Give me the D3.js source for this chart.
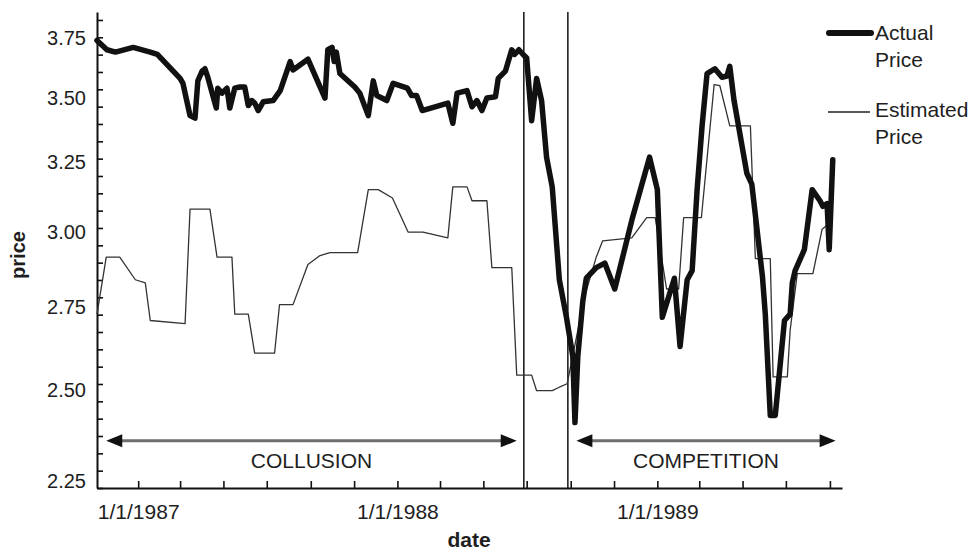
<!DOCTYPE html>
<html>
<head>
<meta charset="utf-8">
<script src="https://cdn.jsdelivr.net/npm/d3@7"></script>
<style>
body{margin:0;background:#fff}
text{font-family:"Liberation Sans",Arial,sans-serif;fill:#1e1e1e}
</style>
</head>
<body>
<svg id="chart" width="975" height="552"></svg>
<script>
// weekly cartel price, actual vs estimated
var actualPrice = [
["1986-11-04",3.73],["1986-11-18",3.69],["1986-11-30",3.68],["1986-12-25",3.70],
["1987-01-18",3.68],["1987-01-28",3.67],["1987-03-01",3.57],["1987-03-05",3.55],
["1987-03-15",3.42],["1987-03-22",3.41],["1987-03-26",3.56],["1987-04-01",3.60],
["1987-04-05",3.61],["1987-04-09",3.575],["1987-04-21",3.45],["1987-04-23",3.53],
["1987-04-29",3.51],["1987-05-06",3.53],["1987-05-10",3.45],["1987-05-17",3.53],
["1987-05-24",3.535],["1987-05-31",3.535],["1987-06-05",3.46],["1987-06-10",3.48],
["1987-06-14",3.47],["1987-06-19",3.44],["1987-06-26",3.475],["1987-07-10",3.48],
["1987-07-20",3.52],["1987-08-03",3.64],["1987-08-07",3.605],["1987-08-28",3.65],
["1987-09-21",3.49],["1987-09-25",3.69],["1987-10-01",3.70],["1987-10-04",3.64],
["1987-10-07",3.68],["1987-10-12",3.59],["1987-11-02",3.535],["1987-11-09",3.51],
["1987-11-21",3.42],["1987-11-28",3.56],["1987-12-03",3.50],["1987-12-17",3.48],
["1987-12-26",3.55],["1988-01-15",3.53],["1988-01-21",3.50],["1988-01-28",3.50],
["1988-02-05",3.44],["1988-03-12",3.47],["1988-03-19",3.39],["1988-03-25",3.51],
["1988-04-08",3.52],["1988-04-15",3.455],["1988-04-22",3.48],["1988-04-29",3.44],
["1988-05-06",3.49],["1988-05-18",3.495],["1988-05-22",3.57],["1988-06-01",3.60],
["1988-06-10",3.69],["1988-06-14",3.67],["1988-06-20",3.69],["1988-06-26",3.67],
["1988-07-01",3.655],["1988-07-08",3.40],["1988-07-15",3.57],["1988-07-22",3.48],
["1988-07-29",3.26],["1988-08-06",3.15],["1988-08-16",2.83],["1988-08-26",2.71],
["1988-09-04",2.59],["1988-09-07",2.40],["1988-09-11",2.59],["1988-09-18",2.76],
["1988-09-23",2.835],["1988-10-07",2.87],["1988-10-19",2.885],["1988-11-02",2.80],
["1988-11-27",3.04],["1988-12-21",3.26],["1989-01-01",3.14],["1989-01-08",2.71],
["1989-01-25",2.835],["1989-02-02",2.62],["1989-02-12",2.83],["1989-02-19",2.86],
["1989-02-26",3.14],["1989-03-05",3.38],["1989-03-12",3.59],["1989-03-23",3.61],
["1989-04-02",3.575],["1989-04-09",3.58],["1989-04-13",3.62],["1989-04-19",3.48],
["1989-05-07",3.20],["1989-05-14",3.16],["1989-05-29",2.84],["1989-06-02",2.72],
["1989-06-09",2.42],["1989-06-16",2.42],["1989-06-29",2.70],["1989-07-07",2.72],
["1989-07-10",2.82],["1989-07-14",2.86],["1989-07-27",2.93],["1989-08-07",3.14],
["1989-08-18",3.10],["1989-08-22",3.08],["1989-08-28",3.09],["1989-08-31",2.93],
["1989-09-05",3.25]
]

var estimatedPrice = [
["1986-11-04",2.72],["1986-11-17",2.905],["1986-12-06",2.905],["1986-12-28",2.83],
["1987-01-11",2.82],["1987-01-18",2.70],["1987-03-08",2.69],["1987-03-15",3.07],
["1987-04-12",3.07],["1987-04-22",2.905],["1987-05-13",2.905],["1987-05-17",2.72],
["1987-06-05",2.72],["1987-06-14",2.60],["1987-07-12",2.60],["1987-07-19",2.75],
["1987-08-07",2.75],["1987-08-28",2.88],["1987-09-14",2.91],["1987-09-28",2.92],
["1987-11-06",2.92],["1987-11-21",3.14],["1987-12-05",3.14],["1987-12-25",3.11],
["1988-01-16",2.99],["1988-02-06",2.99],["1988-03-12",2.97],["1988-03-19",3.15],
["1988-04-08",3.15],["1988-04-15",3.10],["1988-05-06",3.10],["1988-05-13",2.87],
["1988-06-10",2.87],["1988-06-17",2.535],["1988-07-08",2.535],["1988-07-15",2.49],
["1988-08-06",2.49],["1988-08-16",2.50],["1988-08-27",2.51],["1988-09-21",2.78],
["1988-10-07",2.905],["1988-10-16",2.96],["1988-11-26",2.97],["1988-12-17",3.04],
["1988-12-29",3.04],["1989-01-14",2.80],["1989-01-31",2.80],["1989-02-07",3.04],
["1989-03-04",3.04],["1989-03-22",3.545],["1989-03-30",3.54],["1989-04-13",3.38],
["1989-05-12",3.38],["1989-05-19",2.90],["1989-06-09",2.90],["1989-06-13",2.53],
["1989-07-03",2.53],["1989-07-07",2.67],["1989-07-17",2.85],["1989-08-08",2.85],
["1989-08-21",3.00],["1989-09-05",3.03]
]

var yTickValues = [2.25,2.50,2.75,3.00,3.25,3.50,3.75]
var breakDates = ["1988-06-27","1988-08-28"]
var regimeLabels = ["COLLUSION","COMPETITION"]
var regimeStart = ["1986-11-17","1988-09-09"]
var regimeEnd = ["1988-06-17","1989-09-09"]
var arrowPrice = 2.35
var legendNames = [["Actual","Price"],["Estimated","Price"]]

var parse = d3.timeParse("%Y-%m-%d")
var svg = d3.select("#chart")

// log price axis, ticks every 0.02 in ln(price)
var x = d3.scaleTime().domain([parse("1986-11-04"),parse("1989-09-18")]).range([97,842])
var y = d3.scaleLog().domain([Math.exp(0.80),Math.exp(1.3492)]).range([488,12])

var minor = d3.range(0,28).map(function(k){return Math.exp(0.80+0.02*k)})

var gy = svg.append("g").attr("transform","translate(97,0)")
	.call(d3.axisLeft(y).tickValues(minor).tickSizeInner(-6).tickSizeOuter(0).tickFormat(""))
gy.select(".domain").attr("stroke","#111").attr("stroke-width",2)
gy.selectAll(".tick line").attr("stroke","#111").attr("stroke-width",1.6)

var gyl = svg.append("g").attr("transform","translate(97,0)")
	.call(d3.axisLeft(y).tickValues(yTickValues).tickSize(0).tickPadding(11).tickFormat(d3.format(".2f")))
gyl.select(".domain").remove()
gyl.selectAll("text").attr("font-size",20).attr("dy","0.45em").style("font-family",null)

var fmt = d3.timeFormat("%-m/%-d/%Y")
var gx = svg.append("g").attr("transform","translate(0,488)")
	.call(d3.axisBottom(x).ticks(d3.timeMonth.every(2)).tickSizeInner(-7).tickSizeOuter(0).tickPadding(16)
		.tickFormat(function(d){return d.getMonth()==0 ? fmt(d) : ""}))
gx.select(".domain").attr("stroke","#111").attr("stroke-width",2)
gx.selectAll(".tick line").attr("stroke","#111").attr("stroke-width",1.6)
gx.selectAll("text").attr("font-size",21).style("font-family",null)

// axis titles
svg.append("text").attr("transform","translate(25,255) rotate(-90)").attr("text-anchor","middle")
	.attr("font-size",20).attr("font-weight","bold").text("price")
svg.append("text").attr("x",469).attr("y",547).attr("text-anchor","middle")
	.attr("font-size",21).attr("font-weight","bold").text("date")

// regime break lines
svg.selectAll(".brk").data(breakDates).enter().append("line").attr("class","brk")
	.attr("x1",function(d){return x(parse(d))}).attr("x2",function(d){return x(parse(d))})
	.attr("y1",y.range()[1]).attr("y2",y.range()[0])
	.attr("stroke","#111").attr("stroke-width",1.5)

// regime arrows
var ah = 16, aw = 6.5
var ay = y(arrowPrice)
regimeLabels.forEach(function(lab,i){
	var x0 = x(parse(regimeStart[i])), x1 = x(parse(regimeEnd[i]))
	svg.append("line").attr("x1",x0+ah-1).attr("x2",x1-ah+1).attr("y1",ay).attr("y2",ay)
		.attr("stroke","#6e6e6e").attr("stroke-width",3)
	svg.append("path").attr("d","M"+x0+","+ay+"L"+(x0+ah)+","+(ay-aw)+"L"+(x0+ah)+","+(ay+aw)+"Z").attr("fill","#111")
	svg.append("path").attr("d","M"+x1+","+ay+"L"+(x1-ah)+","+(ay-aw)+"L"+(x1-ah)+","+(ay+aw)+"Z").attr("fill","#111")
	svg.append("text").attr("x",(x0+x1)/2).attr("y",ay+27).attr("text-anchor","middle")
		.attr("font-size",21).text(lab)
})

// series
var line = d3.line()
	.x(function(d){return x(parse(d[0]))})
	.y(function(d){return y(d[1])})

svg.append("path").datum(estimatedPrice).attr("d",line)
	.attr("fill","none").attr("stroke","#333").attr("stroke-width",1.3).attr("stroke-linejoin","round")
svg.append("path").datum(actualPrice).attr("d",line)
	.attr("fill","none").attr("stroke","#111").attr("stroke-width",5.5)
	.attr("stroke-linejoin","round").attr("stroke-linecap","round")

// legend
var lg = svg.append("g")
lg.append("line").attr("x1",829).attr("x2",871).attr("y1",33).attr("y2",33)
	.attr("stroke","#111").attr("stroke-width",6).attr("stroke-linecap","round")
lg.append("line").attr("x1",828).attr("x2",870).attr("y1",112).attr("y2",112)
	.attr("stroke","#222").attr("stroke-width",1.3)
legendNames.forEach(function(n,i){
	var t = lg.append("text").attr("x",875).attr("y",40+i*77).attr("font-size",21)
	t.append("tspan").attr("x",875).text(n[0])
	t.append("tspan").attr("x",875).attr("dy",27).text(n[1])
})
</script>
</body>
</html>
